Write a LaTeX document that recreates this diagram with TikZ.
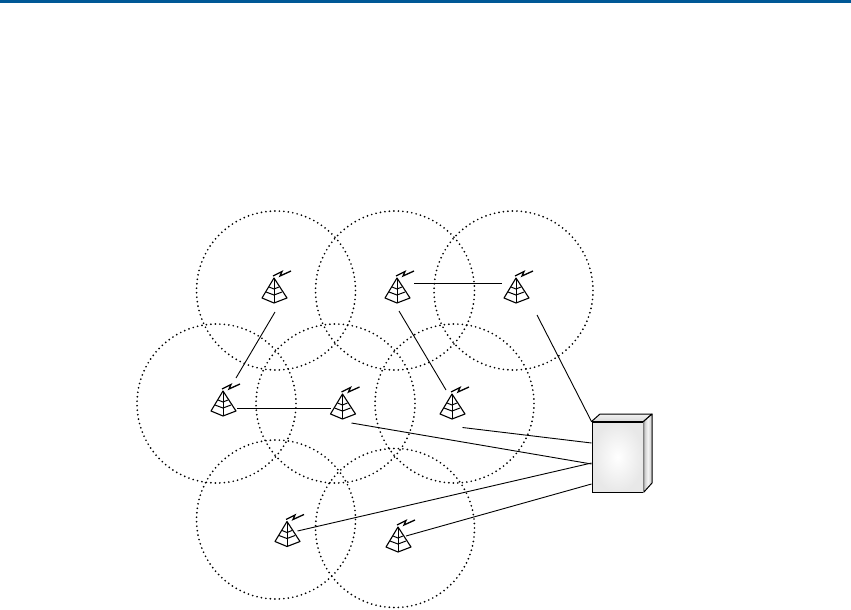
\documentclass[tikz,border=0pt]{standalone}
\usetikzlibrary{calc}
\definecolor{topbar}{RGB}{0,88,150}
\tikzset{cellring/.style={line width=1.9pt,line cap=round,dash pattern=on 0pt off 4.5pt},
  linkline/.style={line width=0.9pt},
  boxfront/.style={draw,line width=1pt,inner sep=0pt,minimum width=51pt,minimum height=70pt,
    inner color=white,outer color=black!9},
  tower/.pic={
    \draw[line width=1.1pt,line join=round] (0,0) -- (-12,20) -- (0,25) -- (13,20) -- cycle;
    \draw[line width=1pt] (0,0) -- (0,25);
    \draw[line width=1pt] (-5,9) -- (0,11) -- (5,9);
    \draw[line width=1pt] (-8,14) -- (0,17) -- (8,14);
    \draw[line width=1.3pt] (-1,-2) -- (8,-6.5) -- (6,-2) -- (17,-7);
  }}

\begin{document}
\begin{tikzpicture}[x=1pt,y=-1pt]
  \useasboundingbox (0,0) rectangle (851,610);
  \fill[topbar] (0,0) rectangle (851,3);
  % cells
  \foreach \cx/\cy in {276/290.5,395/290.5,513.5/290.5,216.5/403.5,335.5/403.5,454.5/403.5,276/519.5,395/528}
    \draw[cellring] (\cx,\cy) circle (79.5pt);
  % antennas
  \foreach \nm/\tx/\ty in {t1/274/278,t2/397/278,t3/516/278,t4/223/391,t5/342.5/394,t6/452/394,t7/287/521.5,t8/398/527}{
    \coordinate (\nm) at (\tx,\ty);
    \pic at (\nm) {tower};
  }
  % switch
  \node[boxfront] (box) at (617.5,457) {};
  \draw[line width=1pt,line join=round,top color=black!5,bottom color=black!15]
    (box.north west) -- (600,414) -- (652,414) -- (box.north east) -- cycle;
  \draw[line width=1pt,line join=round,left color=black!25,right color=black!22,middle color=black!4]
    (box.north east) -- (652,414) -- (652,483) -- (box.south east) -- cycle;
  \draw[black!50,line width=1pt] (box.north east) -- (box.south east);
  % links
  \draw[linkline] ($(t1)+(1,34)$) -- ($(t4)+(13,-13)$);
  \draw[linkline] ($(t2)+(17,5)$) -- ($(t3)+(-14,5)$);
  \draw[linkline] ($(t2)+(2,33)$) -- ($(t6)+(-6,-4)$);
  \draw[linkline] ($(t3)+(21,37)$) -- (box.north west);
  \draw[linkline] ($(t4)+(14,17)$) -- ($(t5)+(-12,14)$);
  \draw[linkline] ($(t5)+(9,29)$) -- ($(box.west)+(0,7)$);
  \draw[linkline] ($(t6)+(10.5,33.5)$) -- ($(box.west)+(0,-14)$);
  \draw[linkline] ($(t7)+(10.5,9.5)$) -- ($(box.west)+(0,6)$);
  \draw[linkline] ($(t8)+(8,9)$) -- ($(box.west)+(0,27)$);
\end{tikzpicture}
\end{document}
